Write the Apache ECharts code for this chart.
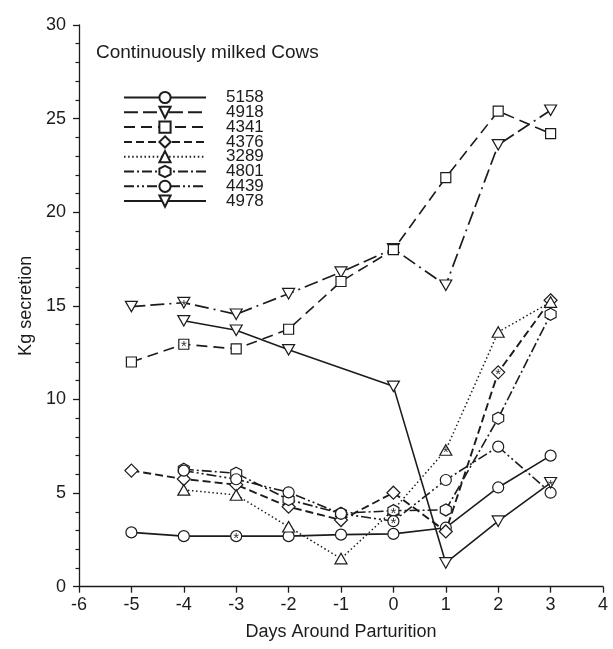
<!DOCTYPE html>
<html>
<head>
<meta charset="utf-8">
<script src="https://cdn.jsdelivr.net/npm/echarts@6/dist/echarts.min.js"></script>
<style>html,body{margin:0;padding:0;background:#fff}#c{width:613px;height:649px}</style>
</head>
<body>
<div id="c"></div>
<script>
const days = [-5, -4, -3, -2, -1, 0, 1, 2, 3];
const cows = ['5158', '4918', '4341', '4376', '3289', '4801', '4439', '4978'];
const v5158 = [2.9, 2.7, 2.7, 2.7, 2.78, 2.82, 3.15, 5.3, 7.0];
const v4918 = [14.96, 15.17, 14.55, 15.65, 16.8, 18.05, 16.1, 23.6, 25.45];
const v4341 = [12.0, 12.95, 12.7, 13.75, 16.3, 18.0, 21.85, 25.4, 24.2];
const v4376 = [6.2, 5.75, 5.45, 4.27, 3.56, 5.02, 2.95, 11.45, 15.3];
const v3289 = [null, 5.17, 4.9, 3.2, 1.5, 4.1, 7.3, 13.6, 15.2];
const v4801 = [null, 6.27, 6.06, 4.65, 3.92, 4.06, 4.1, 9.0, 14.55];
const v4439 = [null, 6.2, 5.74, 5.04, 3.9, 3.5, 5.7, 7.48, 5.02];
const v4978 = [null, 14.2, 13.7, 12.65, null, 10.7, 1.27, 3.5, 5.55];
// day on which the marker carries an asterisk
const starDay = { '5158': -3, '4918': -4, '4341': -4, '4376': 2, '3289': 1, '4801': 0, '4439': 0, '4978': 3 };
const yTicks = [0, 5, 10, 15, 20, 25, 30];
const xTicks = [-6, -5, -4, -3, -2, -1, 0, 1, 2, 3, 4];

const values = { '5158': v5158, '4918': v4918, '4341': v4341, '4376': v4376, '3289': v3289, '4801': v4801, '4439': v4439, '4978': v4978 };
const INK = '#1c1c1c';
const FONT = 'Liberation Sans, Arial, Helvetica, sans-serif';
const downTri = 'path://M0,0 L10,0 L5,8.7 Z';
const hexagon = 'path://M5,0 L10,2.9 L10,8.7 L5,11.6 L0,8.7 L0,2.9 Z';
const styles = {
  '5158': { symbol: 'circle', size: 11, type: 'solid', w: 1.6 },
  '4918': { symbol: downTri, size: [12, 10.5], type: [14, 5, 14, 5, 2, 5], w: 1.7 },
  '4341': { symbol: 'rect', size: 10, type: [11, 6], w: 1.6 },
  '4376': { symbol: 'diamond', size: 13, type: [8, 4], w: 1.9 },
  '3289': { symbol: 'triangle', size: [12, 10.5], type: [1.5, 2.6], w: 1.5 },
  '4801': { symbol: hexagon, size: [11, 12], type: [10, 3, 2, 3], w: 1.6 },
  '4439': { symbol: 'circle', size: 11, type: [10, 3, 2, 3, 2, 3], w: 1.6 },
  '4978': { symbol: downTri, size: [12, 10.5], type: 'solid', w: 1.6 }
};

const series = cows.map(function (id) {
  const st = styles[id];
  const data = [];
  values[id].forEach(function (v, i) {
    if (v === null) return;
    const item = { value: [days[i], v] };
    if (days[i] === starDay[id]) {
      item.label = { show: true, formatter: '*', position: 'inside', fontSize: 15, color: '#333', offset: [0, 3], fontFamily: FONT };
    }
    data.push(item);
  });
  return {
    name: id,
    type: 'line',
    data: data,
    symbol: st.symbol,
    symbolSize: st.size,
    showAllSymbol: true,
    connectNulls: true,
    lineStyle: { color: INK, width: st.w, type: st.type },
    itemStyle: { color: '#fff', borderColor: INK, borderWidth: 1.2 },
    emphasis: { disabled: true },
    animation: false,
    z: 2
  };
});

const chart = echarts.init(document.getElementById('c'), null, { renderer: 'canvas' });
chart.setOption({
  backgroundColor: '#fff',
  animation: false,
  title: {
    text: 'Continuously milked Cows',
    left: 96, top: 43, padding: 0,
    textStyle: { fontFamily: FONT, fontSize: 19, fontWeight: 'normal', color: INK }
  },
  legend: {
    data: cows,
    orient: 'vertical',
    left: 123, top: 89,
    padding: 0,
    itemWidth: 82, itemHeight: 14, itemGap: -2.2,
    selectedMode: false,
    textStyle: { fontFamily: FONT, fontSize: 17, color: INK, lineHeight: 14, padding: [0, 0, 0, 15] }
  },
  grid: { left: 79, right: 10, top: 25, bottom: 62.3, containLabel: false },
  xAxis: {
    type: 'value', min: xTicks[0], max: xTicks[xTicks.length - 1], interval: 1,
    name: 'Days Around Parturition', nameLocation: 'middle', nameGap: 36,
    nameTextStyle: { fontFamily: FONT, fontSize: 18, color: INK },
    axisLine: { show: true, onZero: false, lineStyle: { color: INK, width: 1.3 } },
    axisTick: { show: true, length: 6, lineStyle: { color: INK, width: 1.3 } },
    axisLabel: { fontFamily: FONT, fontSize: 18, color: INK, margin: 9 },
    splitLine: { show: false }
  },
  yAxis: {
    type: 'value', min: yTicks[0], max: yTicks[yTicks.length - 1], interval: 5,
    name: 'Kg secretion', nameLocation: 'middle', nameGap: 43,
    nameTextStyle: { fontFamily: FONT, fontSize: 18, color: INK },
    axisLine: { show: true, onZero: false, lineStyle: { color: INK, width: 1.3 } },
    axisTick: { show: true, length: 6, lineStyle: { color: INK, width: 1.3 } },
    minorTick: { show: true, splitNumber: 5, length: 3.5, lineStyle: { color: INK, width: 1.2 } },
    axisLabel: { fontFamily: FONT, fontSize: 18, color: INK, margin: 13 },
    splitLine: { show: false }
  },
  series: series
});
</script>
</body>
</html>
